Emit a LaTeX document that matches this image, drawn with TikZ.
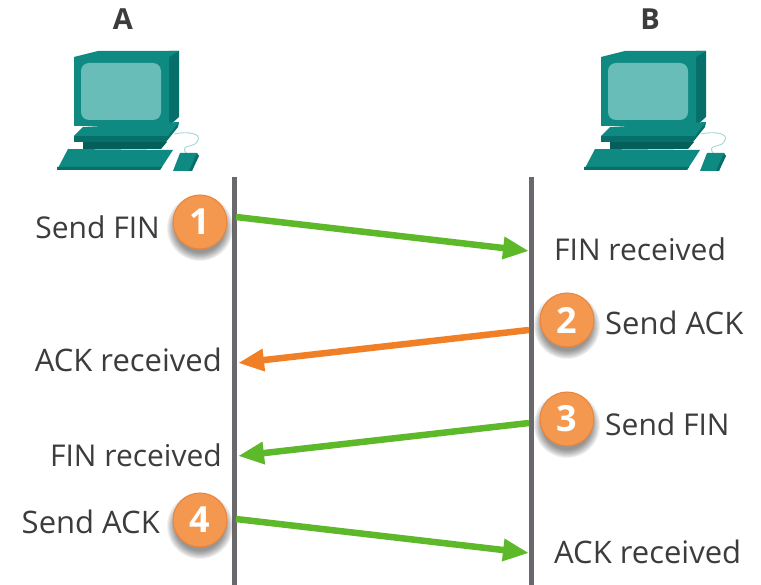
\documentclass[tikz,border=0pt]{standalone}
\usepackage{fontspec}
\setmainfont{Open Sans}
\usetikzlibrary{arrows.meta}
\definecolor{tealmain}{HTML}{0F8A82}
\definecolor{tealdark}{HTML}{066F69}
\definecolor{tealdeep}{HTML}{045F5A}
\definecolor{tealscreen}{HTML}{69BDB9}
\definecolor{lifeline}{HTML}{6A686C}
\definecolor{msggreen}{HTML}{5DB82A}
\definecolor{msgorange}{HTML}{F07F26}
\definecolor{badgefill}{HTML}{F4984F}
\definecolor{badgeedge}{HTML}{E9843A}
\definecolor{txt}{HTML}{3C3C3C}
\tikzset{
  lbl/.style={font=\fontsize{30}{32}\selectfont, text=txt, inner sep=0pt},
  lblack/.style={font=\fontsize{31}{32}\selectfont, text=txt, inner sep=0pt},
  hostlbl/.style={font=\fontsize{29}{32}\selectfont\bfseries, text=txt, inner sep=0pt},
  life/.style={draw=lifeline, line width=5pt},
  msg/.style={line width=6.5pt, -{Triangle[length=26pt,width=21pt]}},
  greenmsg/.style={msg, draw=msggreen},
  orangemsg/.style={msg, draw=msgorange},
  badge/.style={circle, minimum size=54pt, inner sep=0pt, fill=badgefill, draw=badgeedge, line width=1pt,
    text=white, font=\fontsize{36}{38}\selectfont\bfseries},
  softshadow/.style={fill=black, fill opacity=.055},
}
\newcommand{\badgeshadow}[2]{%
  \foreach \r in {33,32,31,30,29,28,27,26,25}{\fill[softshadow] (#1,#2+6) circle[radius=\r pt];}}
\newcommand{\computer}[2]{%
  \begin{scope}[shift={(#1,#2)}]
    % monitor
    \fill[tealdark] (95,0) -- (105,0) -- (105,66) -- (95,75) -- cycle;
    \fill[tealmain] (0,6) -- (24,0) -- (105,0) -- (95,6) -- (95,75) -- (0,75) -- cycle;
    \fill[tealscreen, rounded corners=8pt] (7,12) rectangle (87,69);
    % neck
    \fill[tealdeep] (9,91) -- (93,91) -- (87,98) -- (9,98) -- cycle;
    % base
    \fill[tealdark] (90,75) -- (105,71) -- (104,76) -- (92,91) -- (0,91) -- (0,85) -- cycle;
    \fill[tealmain] (9,76) -- (105,71) -- (94,85) -- (0,85) -- cycle;
    % keyboard
    \fill[tealmain] (-6,98) -- (99,99) -- (86,119) -- (-17,119) -- cycle;
    \fill[tealdark] (-17,116) -- (88,116) -- (86,119) -- (-17,119) -- cycle;
    % cable
    \draw[tealscreen!60!white, line width=.9pt] (100,83) .. controls (112,80) and (130,82) .. (123,91) .. controls (119,97) and (106,93) .. (112,102);
    % mouse
    \fill[tealmain] (106,102) -- (123,102) -- (118,120) -- (99,120) -- cycle;
    \fill[tealdark] (123,102) -- (125,105) -- (118,120) -- (115,120) -- cycle;
  \end{scope}}
\begin{document}
\begin{tikzpicture}[x=1pt,y=-1pt]
\useasboundingbox (0,0) rectangle (761,585);
\fill[white] (0,0) rectangle (761,585);
\node[hostlbl] (hA) at (123,19) {A};
\node[hostlbl] (hB) at (650,19) {B};
\computer{74}{51}
\computer{601}{51}
\coordinate (aTop) at (234,177);
\coordinate (aBot) at (234,585);
\coordinate (bTop) at (531,177);
\coordinate (bBot) at (531,585);
\draw[life] (aTop) -- (aBot);
\draw[life] (bTop) -- (bBot);
\coordinate (m1s) at (236,217); \coordinate (m1e) at (529,251);
\coordinate (m2s) at (529,330); \coordinate (m2e) at (238,363);
\coordinate (m3s) at (529,423); \coordinate (m3e) at (238,456);
\coordinate (m4s) at (236,519); \coordinate (m4e) at (529,553);
\draw[greenmsg] (m1s) -- (m1e);
\draw[orangemsg] (m2s) -- (m2e);
\draw[greenmsg] (m3s) -- (m3e);
\draw[greenmsg] (m4s) -- (m4e);
\badgeshadow{200}{222}
\badgeshadow{567}{320}
\badgeshadow{567}{419}
\badgeshadow{200}{520}
\node[badge] (b1) at (200,222) {1};
\node[badge] (b2) at (567,320) {2};
\node[badge] (b3) at (567,419) {3};
\node[badge] (b4) at (200,520) {4};
\node[lbl, anchor=east] (t1) at (160,227) {Send FIN};
\node[lbl, anchor=west] (t2) at (554,249) {FIN received};
\node[lblack, anchor=west] (t3) at (605,323) {Send ACK};
\node[lblack, anchor=east] (t4) at (222,360) {ACK received};
\node[lbl, anchor=west] (t5) at (605,424) {Send FIN};
\node[lbl, anchor=east] (t6) at (222,455) {FIN received};
\node[lblack, anchor=east] (t7) at (160,522) {Send ACK};
\node[lblack, anchor=west] (t8) at (554,552) {ACK received};
\end{tikzpicture}
\end{document}
